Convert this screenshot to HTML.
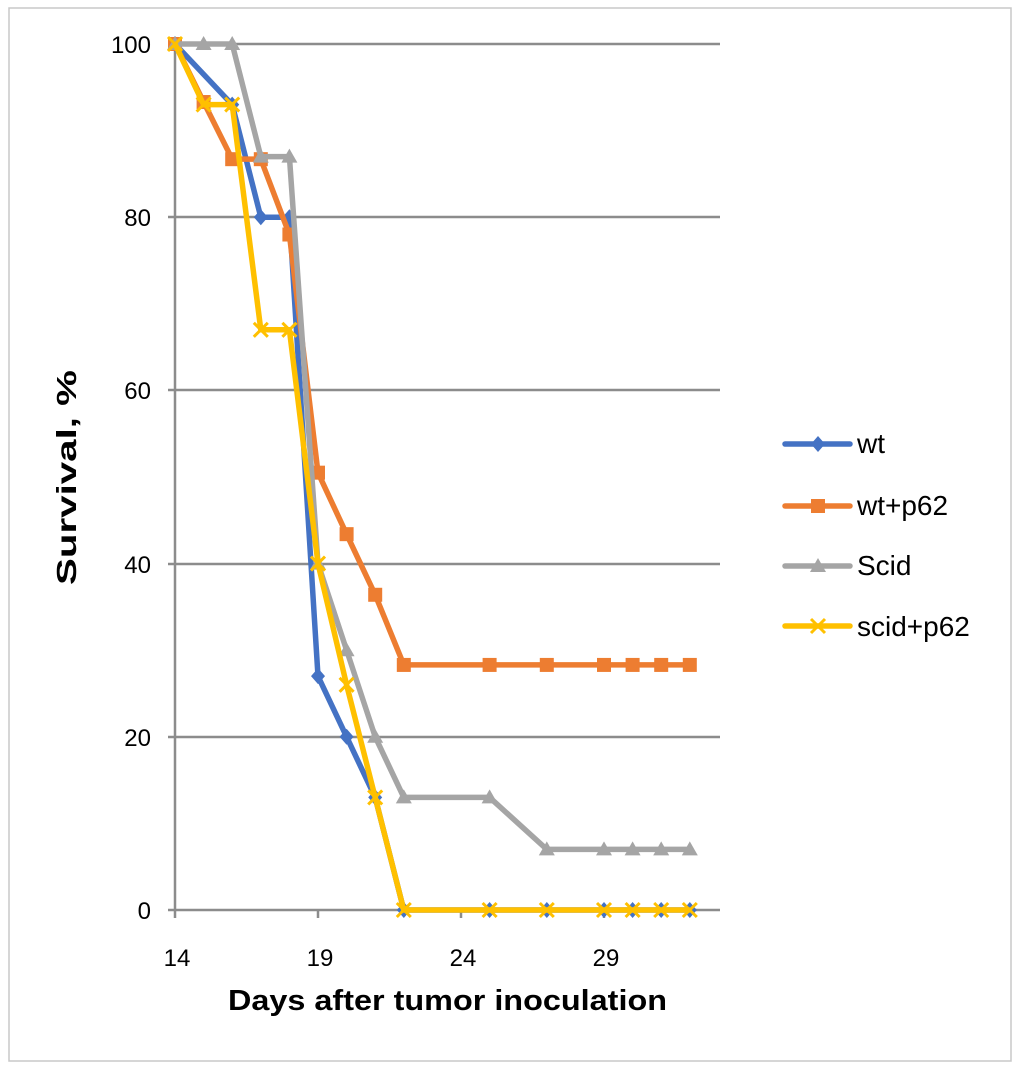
<!DOCTYPE html>
<html><head><meta charset="utf-8"><style>
html,body{margin:0;padding:0;background:#fff}
svg{display:block;font-family:"Liberation Sans",Arial,sans-serif}
</style></head><body>
<svg id="s" width="1020" height="1071" viewBox="0 0 1020 1071" xmlns="http://www.w3.org/2000/svg">
<rect x="9" y="8" width="1002" height="1053" fill="#fff" stroke="#c8c8c8" stroke-width="1.5"/>
<g stroke="#8c8c8c" stroke-width="2.5">
<line x1="168" y1="44" x2="720" y2="44"/>
<line x1="168" y1="217" x2="720" y2="217"/>
<line x1="168" y1="390" x2="720" y2="390"/>
<line x1="168" y1="564" x2="720" y2="564"/>
<line x1="168" y1="737" x2="720" y2="737"/>
<line x1="168" y1="910" x2="720" y2="910"/>
<line x1="175" y1="40" x2="175" y2="918"/>
<line x1="318" y1="910" x2="318" y2="918"/>
<line x1="461" y1="910" x2="461" y2="918"/>
<line x1="604" y1="910" x2="604" y2="918"/>
</g>
<g font-size="24" fill="#000" text-anchor="end">
<text x="151" y="53">100</text><text x="151" y="226">80</text><text x="151" y="399">60</text>
<text x="151" y="573">40</text><text x="151" y="746">20</text><text x="151" y="919">0</text>
</g>
<g font-size="24" fill="#000" text-anchor="middle">
<text x="177" y="966">14</text><text x="320" y="966">19</text><text x="463" y="966">24</text><text x="606" y="966">29</text>
</g>
<text x="228" y="1010" font-size="29" font-weight="bold" textLength="439" lengthAdjust="spacingAndGlyphs">Days after tumor inoculation</text>
<text transform="translate(76,585) rotate(-90)" font-size="28" font-weight="bold" textLength="215" lengthAdjust="spacingAndGlyphs">Survival, %</text>
<g id="series"></g>
<g font-size="28" fill="#000">
<text x="857" y="453">wt</text><text x="857" y="515">wt+p62</text><text x="857" y="575">Scid</text><text x="857" y="636">scid+p62</text>
</g>
</svg>
<script>
var X=function(d){return 175+(d-14)*28.6},Y=function(v){return 910-v*8.66};
var S=[
{c:"#4472c4",m:"d",d:[[14,100],[16,93],[17,80],[18,80],[19,27],[20,20],[21,13],[22,0],[25,0],[27,0],[29,0],[30,0],[31,0],[32,0]],ly:444},
{c:"#ed7d31",m:"s",d:[[14,100],[15,93.3],[16,86.7],[17,86.7],[18,78],[19,50.5],[20,43.4],[21,36.4],[22,28.3],[25,28.3],[27,28.3],[29,28.3],[30,28.3],[31,28.3],[32,28.3]],ly:506},
{c:"#a5a5a5",m:"t",d:[[14,100],[15,100],[16,100],[17,87],[18,87],[19,40],[20,30],[21,20],[22,13],[25,13],[27,7],[29,7],[30,7],[31,7],[32,7]],ly:566},
{c:"#ffc000",m:"x",d:[[14,100],[15,93],[16,93],[17,67],[18,67],[19,40],[20,26],[21,13],[22,0],[25,0],[27,0],[29,0],[30,0],[31,0],[32,0]],ly:626}];
var g=document.getElementById("series"),h="";
function mk(m,x,y,c){
 if(m=="d")return '<polygon points="'+x+','+(y-8)+' '+(x+7)+','+y+' '+x+','+(y+8)+' '+(x-7)+','+y+'" fill="'+c+'"/>';
 if(m=="s")return '<rect x="'+(x-7)+'" y="'+(y-7)+'" width="14" height="14" fill="'+c+'"/>';
 if(m=="t")return '<polygon points="'+x+','+(y-8)+' '+(x+8)+','+(y+6)+' '+(x-8)+','+(y+6)+'" fill="'+c+'"/>';
 return '<path d="M'+(x-7)+','+(y-7)+'L'+(x+7)+','+(y+7)+'M'+(x+7)+','+(y-7)+'L'+(x-7)+','+(y+7)+'" stroke="'+c+'" stroke-width="3"/>';
}
S.forEach(function(s){
 var p=s.d.map(function(q){return X(q[0])+','+Y(q[1])}).join(' ');
 h+='<polyline points="'+p+'" fill="none" stroke="'+s.c+'" stroke-width="5.5" stroke-linejoin="round"/>';
 s.d.forEach(function(q){h+=mk(s.m,X(q[0]),Y(q[1]),s.c)});
 h+='<line x1="785" y1="'+s.ly+'" x2="850" y2="'+s.ly+'" stroke="'+s.c+'" stroke-width="5.5" stroke-linecap="round"/>'+mk(s.m,818,s.ly,s.c);
});
g.innerHTML=h;
</script>
</body></html>
